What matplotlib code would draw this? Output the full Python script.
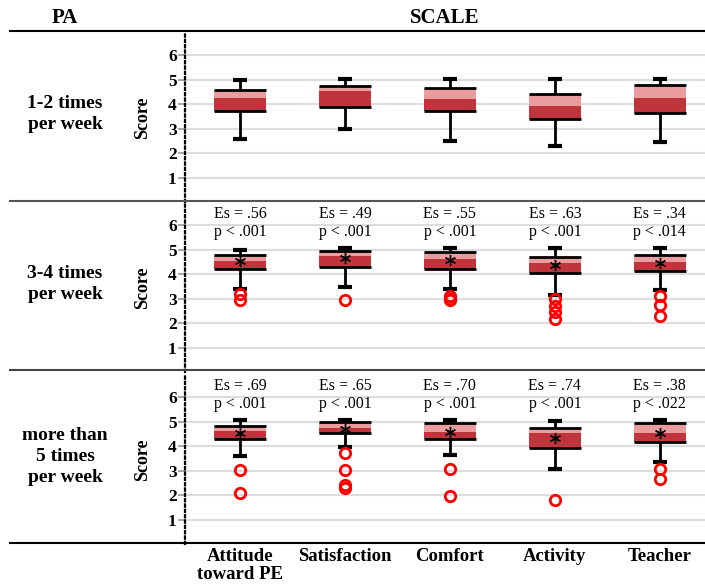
import matplotlib.pyplot as plt
from matplotlib.lines import Line2D

plt.rcParams['font.family'] = ['Liberation Serif', 'DejaVu Serif']

# ----- data -----
scales = ['Attitude\ntoward PE', 'Satisfaction', 'Comfort', 'Activity', 'Teacher']
groups = ['1-2 times\nper week', '3-4 times\nper week', 'more than\n5 times\nper week']

# 1-2 times per week
lo_1 = [2.57, 2.97, 2.49, 2.29, 2.44]
q1_1 = [3.71, 3.87, 3.70, 3.40, 3.65]
med_1 = [4.24, 4.52, 4.19, 3.90, 4.23]
q3_1 = [4.58, 4.74, 4.66, 4.39, 4.76]
hi_1 = [4.98, 5.04, 5.01, 5.01, 5.01]

# 3-4 times per week
lo_2 = [3.40, 3.47, 3.37, 3.13, 3.33]
q1_2 = [4.19, 4.27, 4.20, 4.03, 4.13]
med_2 = [4.52, 4.72, 4.61, 4.44, 4.50]
q3_2 = [4.78, 4.95, 4.89, 4.69, 4.77]
hi_2 = [5.00, 5.06, 5.06, 5.06, 5.06]
mean_2 = [4.53, 4.64, 4.57, 4.36, 4.47]
fliers_2 = [[3.20, 2.92], [2.96], [3.12, 3.00, 2.93], [2.98, 2.70, 2.46, 2.17], [3.10, 2.75, 2.30]]
es_2 = ['.56', '.49', '.55', '.63', '.34']
p_2 = ['.001', '.001', '.001', '.001', '.014']

# more than 5 times per week
lo_3 = [3.58, 3.96, 3.62, 3.08, 3.33]
q1_3 = [4.27, 4.53, 4.27, 3.92, 4.17]
med_3 = [4.60, 4.75, 4.58, 4.53, 4.53]
q3_3 = [4.81, 4.97, 4.96, 4.75, 4.94]
hi_3 = [5.05, 5.05, 5.05, 5.02, 5.05]
mean_3 = [4.55, 4.71, 4.58, 4.33, 4.53]
fliers_3 = [[3.04, 2.10], [3.72, 3.04, 2.40, 2.30], [3.05, 1.98], [1.79], [3.05, 2.67]]
es_3 = ['.69', '.65', '.70', '.74', '.38']
p_3 = ['.001', '.001', '.001', '.001', '.022']

DARK = '#C0353B'
LIGHT = '#EB9C9E'
BOX_W = 0.49
CAP_W = 0.14


def draw_panel(ax, lo, q1, med, q3, hi, means=None, fliers=None, es=None, pv=None):
    x = list(range(len(scales)))
    ax.bar(x, [m - a for m, a in zip(med, q1)], bottom=q1, width=BOX_W, color=DARK, zorder=2)
    ax.bar(x, [b - m for b, m in zip(q3, med)], bottom=med, width=BOX_W, color=LIGHT, zorder=2)
    xl = [i - BOX_W / 2 for i in x]
    xr = [i + BOX_W / 2 for i in x]
    ax.hlines(q1, xl, xr, color='black', lw=2, zorder=3)
    ax.hlines(q3, xl, xr, color='black', lw=2, zorder=3)
    ax.vlines(x, lo, q1, color='black', lw=2, zorder=3)
    ax.vlines(x, q3, hi, color='black', lw=2, zorder=3)
    ax.hlines(lo, [i - CAP_W / 2 for i in x], [i + CAP_W / 2 for i in x], color='black', lw=3, zorder=3)
    ax.hlines(hi, [i - CAP_W / 2 for i in x], [i + CAP_W / 2 for i in x], color='black', lw=3, zorder=3)

    if fliers is not None:
        for i, f in enumerate(fliers):
            ax.plot([i] * len(f), f, 'o', mfc='none', mec='#FF0000', ms=7.5, mew=2, zorder=4)
    if means is not None:
        ax.plot(x, means, ls='none', marker=(6, 2, 0), color='black', ms=8, mew=1.0, zorder=5)
    if es is not None:
        for i in x:
            ax.text(i, 6.45, f'Es = {es[i]}', ha='center', va='center', fontsize=11.5)
            ax.text(i, 5.72, f'p < {pv[i]}', ha='center', va='center', fontsize=11.5)

    ax.set_xlim(-0.524, 4.43)
    ax.set_ylim(0, 6.9)
    ax.set_yticks(range(1, 7))
    ax.set_yticklabels([str(v) for v in range(1, 7)], fontweight='bold', fontsize=12.5)
    ax.tick_params(axis='y', length=5, width=1.2, color='#999999', pad=1)
    ax.grid(axis='y', color='#DDDDDD', lw=1.5)
    ax.set_axisbelow(True)
    for s in ['top', 'right', 'bottom']:
        ax.spines[s].set_visible(False)
    ax.spines['left'].set_linestyle((0, (1, 1.4)))
    ax.spines['left'].set_linewidth(1.6)
    ax.set_ylabel('Score', fontweight='bold', fontsize=13, labelpad=12)


fig = plt.figure(figsize=(7.05, 5.84), dpi=100)
left = 185 / 705
width = 520 / 705
height = 169 / 584
ax1 = fig.add_axes([left, 382 / 584, width, height])
ax2 = fig.add_axes([left, 212 / 584, width, height])
ax3 = fig.add_axes([left, 40 / 584, width, height])

draw_panel(ax1, lo_1, q1_1, med_1, q3_1, hi_1)
draw_panel(ax2, lo_2, q1_2, med_2, q3_2, hi_2, mean_2, fliers_2, es_2, p_2)
draw_panel(ax3, lo_3, q1_3, med_3, q3_3, hi_3, mean_3, fliers_3, es_3, p_3)

for ax in (ax1, ax2):
    ax.set_xticks([])
ax3.set_xticks(range(len(scales)))
ax3.set_xticklabels(scales, fontweight='bold', fontsize=13.5, linespacing=1.05)
ax3.tick_params(axis='x', length=0, pad=3)

# header and row labels
fig.text(65 / 705, 1 - 18 / 584, 'PA', ha='center', va='center', fontweight='bold', fontsize=15)
fig.text(445 / 705, 1 - 18 / 584, 'SCALE', ha='center', va='center', fontweight='bold', fontsize=15)
for ax, g in zip((ax1, ax2, ax3), groups):
    pos = ax.get_position()
    fig.text(65 / 705, pos.y0 + pos.height * 0.52, g, ha='center', va='center',
             fontweight='bold', fontsize=14, linespacing=1.3)

# separator lines
for ypx, col in [(31, 'black'), (201, '#555555'), (370, '#444444'), (543, 'black')]:
    fig.add_artist(Line2D([10 / 705, 1], [1 - ypx / 584] * 2, transform=fig.transFigure,
                          color=col, lw=1.5))

fig.savefig('out.png', dpi=100)
